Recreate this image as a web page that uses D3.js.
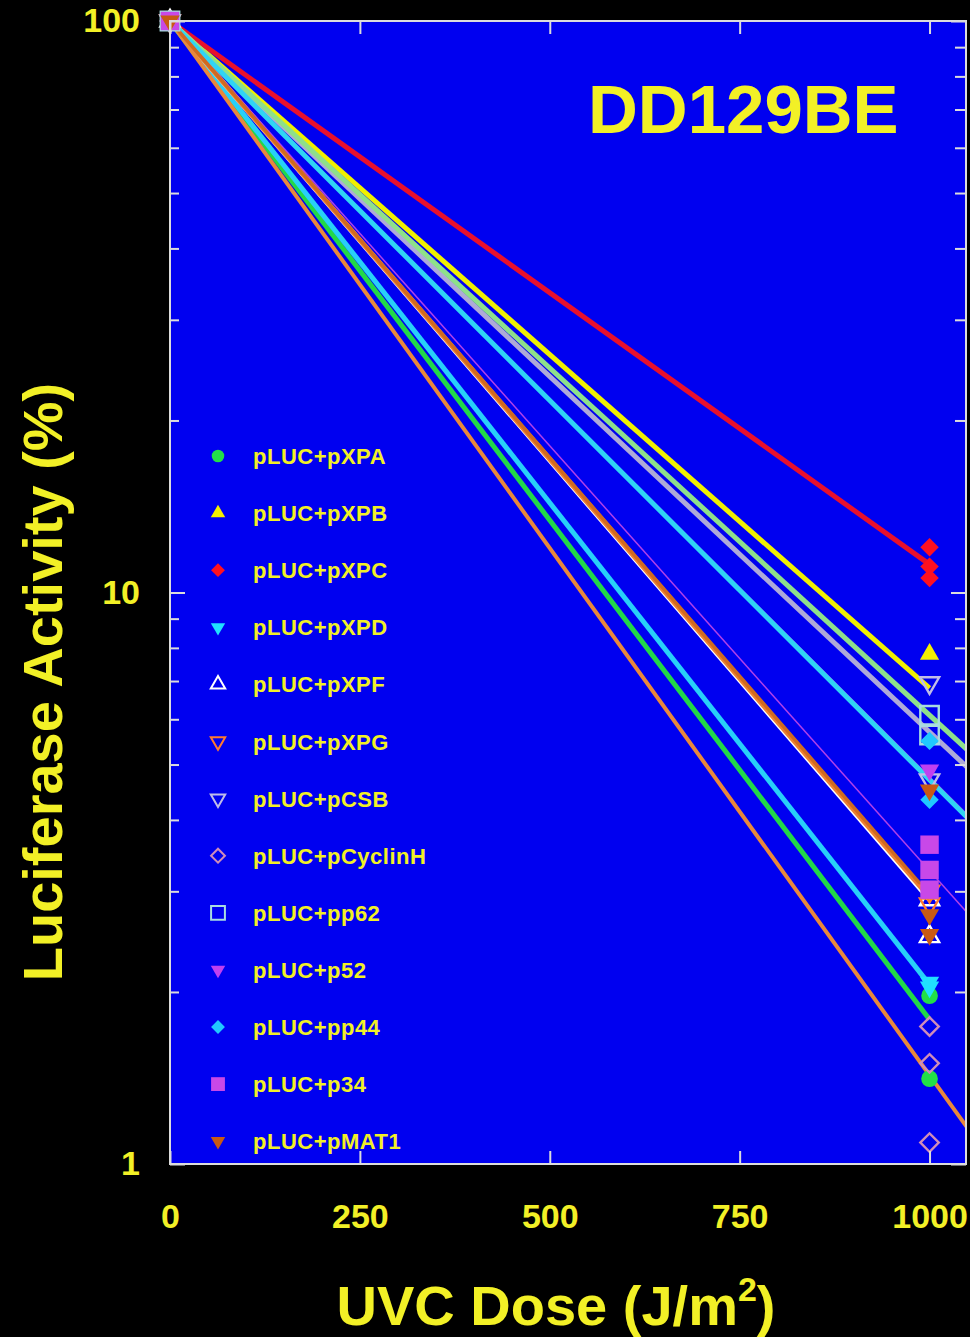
<!DOCTYPE html>
<html>
<head>
<meta charset="utf-8">
<script src="https://cdn.jsdelivr.net/npm/d3@7"></script>
<style>
  html, body { margin: 0; padding: 0; background: #000; }
  svg { display: block; font-family: "Liberation Sans", Arial, sans-serif; font-weight: bold; }
</style>
</head>
<body>
<div id="chart"></div>
<script>
// Series names, in legend order.
const series = ["pLUC+pXPA", "pLUC+pXPB", "pLUC+pXPC", "pLUC+pXPD", "pLUC+pXPF", "pLUC+pXPG",
  "pLUC+pCSB", "pLUC+pCyclinH", "pLUC+pp62", "pLUC+p52", "pLUC+pp44", "pLUC+p34", "pLUC+pMAT1"];

// Every series starts at 100 % for dose 0.
const startDose = 0;
const startValue = 100;
const endDose = 1000;

// Replicate values (%) read at 1000 J/m2.
const endValues = [
  [1.97, 1.41],
  [7.8],
  [12.0, 11.1, 10.6],
  [2.08, 2.04],
  [2.9, 2.5],
  [3.0, 2.85],
  [6.95, 4.7],
  [1.74, 1.5, 1.09],
  [6.1, 5.63],
  [4.89],
  [5.5, 4.34],
  [3.62, 3.27, 3.02],
  [4.51, 2.73, 2.52]
];

// Fitted line value (%) at 1000 J/m2, and the dose where each fit line stops.
const fitAt1000 = [1.79, 6.8, 11.2, 2.06, 2.9, 2.93, 5.7, 1.43, 6.1, 4.75, 4.7, 3.26, 2.96];
const fitStop = [1000, 1000, 1000, 1000, 1000, 1000, 1100, 1100, 1100, 1100, 1100, 1100, 1000];

const xTicks = [0, 250, 500, 750, 1000];
const yMajor = [1, 10, 100];
const yMinor = [2, 3, 4, 5, 6, 7, 8, 9, 20, 30, 40, 50, 60, 70, 80, 90];

// Look of each series: marker shape, open or filled, marker colour, line colour, line width.
const styles = {
  "pLUC+pXPA":     {shape: "circle",   open: false, color: "#22e048", line: "#22d848", lw: 5},
  "pLUC+pXPB":     {shape: "triUp",    open: false, color: "#f4f000", line: "#f0f000", lw: 5},
  "pLUC+pXPC":     {shape: "diamond",  open: false, color: "#ff1020", line: "#e8102c", lw: 5},
  "pLUC+pXPD":     {shape: "triDown",  open: false, color: "#20e0ff", line: "#28d0f8", lw: 5},
  "pLUC+pXPF":     {shape: "triUp",    open: true,  color: "#ffffff", line: "#ffffff", lw: 5},
  "pLUC+pXPG":     {shape: "triDown",  open: true,  color: "#ff7a30", line: "#f08030", lw: 5},
  "pLUC+pCSB":     {shape: "triDown",  open: true,  color: "#c0bce8", line: "#aeaad8", lw: 5},
  "pLUC+pCyclinH": {shape: "diamond",  open: true,  color: "#d08cb8", line: "#e8883c", lw: 4},
  "pLUC+pp62":     {shape: "square",   open: true,  color: "#a8dce0", line: "#8ee08a", lw: 5},
  "pLUC+p52":      {shape: "triDown",  open: false, color: "#c040f0", line: "#b040e0", lw: 2},
  "pLUC+pp44":     {shape: "diamond",  open: false, color: "#20c8ff", line: "#30d4f4", lw: 5},
  "pLUC+p34":      {shape: "square",   open: false, color: "#c848e8", line: "#b040e8", lw: 1.5},
  "pLUC+pMAT1":    {shape: "triDown",  open: false, color: "#c85a14", line: "#d06a20", lw: 3.5}
};

const W = 970, H = 1337;
const plot = {left: 170, right: 966, top: 21, bottom: 1164};
const yellow = "#f2f026";
const frameColor = "#dcdcdc";

const svg = d3.select("#chart").append("svg")
  .attr("width", W)
  .attr("height", H);

svg.append("rect").attr("width", W).attr("height", H).attr("fill", "#000");

const x = d3.scaleLinear().domain([0, 1048]).range([plot.left, plot.right]);
const y = d3.scaleLog().domain([1, 100]).range([plot.bottom, plot.top]);

// Plot background.
svg.append("rect")
  .attr("x", plot.left).attr("y", plot.top)
  .attr("width", plot.right - plot.left).attr("height", plot.bottom - plot.top)
  .attr("fill", "#0000f0");

svg.append("clipPath").attr("id", "clip")
  .append("rect")
  .attr("x", plot.left).attr("y", plot.top)
  .attr("width", plot.right - plot.left).attr("height", plot.bottom - plot.top);

// Title inside the plot.
svg.append("text")
  .attr("x", 588).attr("y", 133)
  .attr("fill", yellow)
  .attr("font-size", 69)
  .text("DD129BE");

// Symbol helper: returns a path and a rotation.
function marker(shape, scale){
  let type, size, rot = 0;
  if(shape == "circle"){ type = d3.symbolCircle; size = 220; }
  else if(shape == "triUp"){ type = d3.symbolTriangle; size = 160; }
  else if(shape == "triDown"){ type = d3.symbolTriangle; size = 160; rot = 180; }
  else if(shape == "square"){ type = d3.symbolSquare; size = 340; }
  else { type = d3.symbolSquare; size = 170; rot = 45; }
  return {d: d3.symbol().type(type).size(size * scale * scale)(), rot: rot};
} // marker

// Fit lines: straight in log space from (0,100) through the fitted value at 1000.
const lineGen = d3.line().x(d => x(d[0])).y(d => y(d[1]));
const gLines = svg.append("g").attr("clip-path", "url(#clip)");
series.forEach((name, i) => {
  const st = styles[name];
  const stop = fitStop[i];
  const vStop = startValue * Math.pow(fitAt1000[i] / startValue, stop / endDose);
  gLines.append("path")
    .attr("d", lineGen([[startDose, startValue], [stop, vStop]]))
    .attr("fill", "none")
    .attr("stroke", st.line)
    .attr("stroke-width", st.lw);
});

// Data markers.
const gPts = svg.append("g");
series.forEach((name, i) => {
  const st = styles[name];
  const m = marker(st.shape, 1);
  const pts = [[startDose, startValue]].concat(endValues[i].map(v => [endDose, v]));
  gPts.selectAll(null)
    .data(pts)
    .enter()
    .append("path")
      .attr("d", m.d)
      .attr("transform", d => `translate(${x(d[0])},${y(d[1])}) rotate(${m.rot})`)
      .attr("fill", st.open ? "none" : st.color)
      .attr("stroke", st.open ? st.color : "none")
      .attr("stroke-width", 2.4);
});

// Frame.
svg.append("rect")
  .attr("x", plot.left).attr("y", plot.top)
  .attr("width", plot.right - plot.left).attr("height", plot.bottom - plot.top)
  .attr("fill", "none")
  .attr("stroke", frameColor)
  .attr("stroke-width", 2);

// Axes.
function styleAxis(g){
  g.select(".domain").remove();
  g.selectAll(".tick line").attr("stroke", frameColor).attr("stroke-width", 2);
  g.selectAll(".tick text")
    .attr("fill", yellow)
    .attr("font-size", 34)
    .attr("font-family", "Liberation Sans, Arial, sans-serif")
    .attr("font-weight", "bold");
} // styleAxis

svg.append("g")
  .attr("transform", `translate(0,${plot.bottom})`)
  .call(d3.axisBottom(x).tickValues(xTicks).tickFormat(d3.format("d")).tickSizeInner(-13).tickSizeOuter(0).tickPadding(40))
  .call(styleAxis);

svg.append("g")
  .attr("transform", `translate(0,${plot.top})`)
  .call(d3.axisTop(x).tickValues(xTicks).tickFormat("").tickSizeInner(-13).tickSizeOuter(0))
  .call(styleAxis);

svg.append("g")
  .attr("transform", `translate(${plot.left},0)`)
  .call(d3.axisLeft(y).tickValues(yMajor).tickFormat(d3.format("d")).tickSizeInner(-15).tickSizeOuter(0).tickPadding(30))
  .call(styleAxis);

svg.append("g")
  .attr("transform", `translate(${plot.left},0)`)
  .call(d3.axisLeft(y).tickValues(yMinor).tickFormat("").tickSizeInner(-9).tickSizeOuter(0))
  .call(styleAxis);

svg.append("g")
  .attr("transform", `translate(${plot.right},0)`)
  .call(d3.axisRight(y).tickValues(yMajor).tickFormat("").tickSizeInner(-15).tickSizeOuter(0))
  .call(styleAxis);

svg.append("g")
  .attr("transform", `translate(${plot.right},0)`)
  .call(d3.axisRight(y).tickValues(yMinor).tickFormat("").tickSizeInner(-11).tickSizeOuter(0))
  .call(styleAxis);

// Axis titles.
svg.append("text")
  .attr("transform", "translate(62,682) rotate(-90)")
  .attr("text-anchor", "middle")
  .attr("fill", yellow)
  .attr("font-size", 56)
  .text("Luciferase Activity (%)");

const xt = svg.append("text")
  .attr("x", 556).attr("y", 1325)
  .attr("text-anchor", "middle")
  .attr("fill", yellow)
  .attr("font-size", 56);
xt.append("tspan").text("UVC Dose (J/m");
xt.append("tspan").attr("font-size", 34).attr("dy", -24).text("2");
xt.append("tspan").attr("dy", 24).text(")");

// Legend.
const legend = svg.append("g");
series.forEach((name, i) => {
  const st = styles[name];
  const m = marker(st.shape, 0.75);
  const ly = 456 + i * 57.1;
  legend.append("path")
    .attr("d", m.d)
    .attr("transform", `translate(218,${ly}) rotate(${m.rot})`)
    .attr("fill", st.open ? "none" : st.color)
    .attr("stroke", st.open ? st.color : "none")
    .attr("stroke-width", 2);
  legend.append("text")
    .attr("x", 253).attr("y", ly + 8)
    .attr("fill", yellow)
    .attr("font-size", 22)
    .attr("letter-spacing", 0.5)
    .text(name);
});
</script>
</body>
</html>
